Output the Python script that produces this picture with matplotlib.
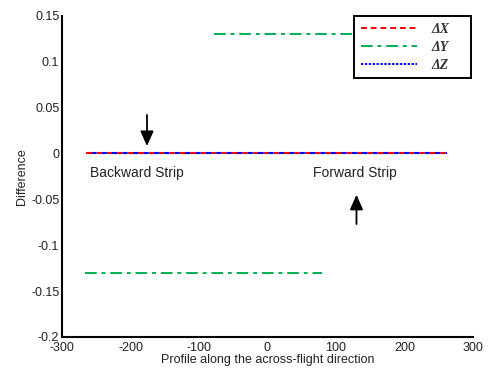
import matplotlib
matplotlib.use("Agg")
import matplotlib.pyplot as plt
from matplotlib.lines import Line2D

# profile segments (start, end) and the constant difference along them
dx_x = [-265, 262]
dx_y = [0.0, 0.0]
dz_x = [-265, 262]
dz_y = [0.0, 0.0]
dy_fwd_x = [-78, 265]
dy_fwd_y = [0.13, 0.13]
dy_back_x = [-266, 80]
dy_back_y = [-0.13, -0.13]

xticks = [-300, -200, -100, 0, 100, 200, 300]
yticks = [-0.2, -0.15, -0.1, -0.05, 0, 0.05, 0.1, 0.15]
ytick_labels = ["-0.2", "-0.15", "-0.1", "-0.05", "0", "0.05", "0.1", "0.15"]
legend_labels = ['ΔX    ', 'ΔY    ', 'ΔZ    ']

plt.rcParams['font.family'] = ['Liberation Sans', 'DejaVu Sans']
plt.rcParams['axes.unicode_minus'] = False

GREEN = '#00b050'
dashdot = (0, (6, 2.5, 2, 2.5))

fig = plt.figure(figsize=(4.89, 3.69), dpi=100)
ax = fig.add_axes([0.127, 0.087, 0.840, 0.870])

ax.plot(dy_fwd_x, dy_fwd_y, color=GREEN, linestyle=dashdot, linewidth=1.4)
ax.plot(dy_back_x, dy_back_y, color=GREEN, linestyle=dashdot, linewidth=1.4)
ax.plot(dx_x, dx_y, color='red', linestyle=(0, (2.5, 2.5)), linewidth=1.5)
ax.plot(dz_x, dz_y, color='blue', linestyle=(2.5, (2.5, 2.5)), linewidth=1.5)

# strip markers
ax.annotate('', xy=(-176, 0.005), xytext=(-176, 0.045),
            arrowprops=dict(arrowstyle='-|>,head_width=0.4,head_length=0.9', color='black', lw=1.3))
ax.annotate('', xy=(130, -0.042), xytext=(130, -0.080),
            arrowprops=dict(arrowstyle='-|>,head_width=0.4,head_length=0.9', color='black', lw=1.3))
ax.text(-259, -0.021, 'Backward Strip', fontsize=10, va='center', ha='left', color='#222222')
ax.text(66, -0.021, 'Forward Strip', fontsize=10, va='center', ha='left', color='#222222')

ax.set_xlim(-300, 300)
ax.set_ylim(-0.2, 0.15)
ax.set_xticks(xticks)
ax.set_yticks(yticks)
ax.set_yticklabels(ytick_labels)
ax.tick_params(direction='in', length=0, labelsize=9, colors='#222222')
ax.tick_params(axis='x', pad=4)
ax.tick_params(axis='y', pad=2)
ax.spines['top'].set_visible(False)
ax.spines['right'].set_visible(False)
ax.spines['left'].set_linewidth(1.5)
ax.spines['bottom'].set_linewidth(1.5)
ax.set_xlabel('Profile along the across-flight direction', fontsize=9, labelpad=0, color='#222222')
ax.set_ylabel('Difference', fontsize=9, labelpad=2, color='#222222')

handles = [
    Line2D([], [], color='red', linestyle=(0, (3, 2)), linewidth=1.4),
    Line2D([], [], color=GREEN, linestyle=(0, (6, 2.5, 2, 2.5)), linewidth=1.4),
    Line2D([], [], color='blue', linestyle=(0, (1.2, 0.8)), linewidth=1.4),
]
leg = ax.legend(handles, legend_labels, loc='upper right', bbox_to_anchor=(0.995, 1.0),
                frameon=True, fancybox=False, handlelength=4.0, borderpad=0.5,
                labelspacing=0.35, handletextpad=1.1, borderaxespad=0.0,
                prop={'family': 'Liberation Serif', 'weight': 'bold', 'style': 'italic', 'size': 10})
for t in leg.get_texts():
    t.set_color('#333333')
leg.get_frame().set_edgecolor('black')
leg.get_frame().set_linewidth(1.4)
leg.get_frame().set_alpha(1)

plt.savefig('out.png', dpi=100)
